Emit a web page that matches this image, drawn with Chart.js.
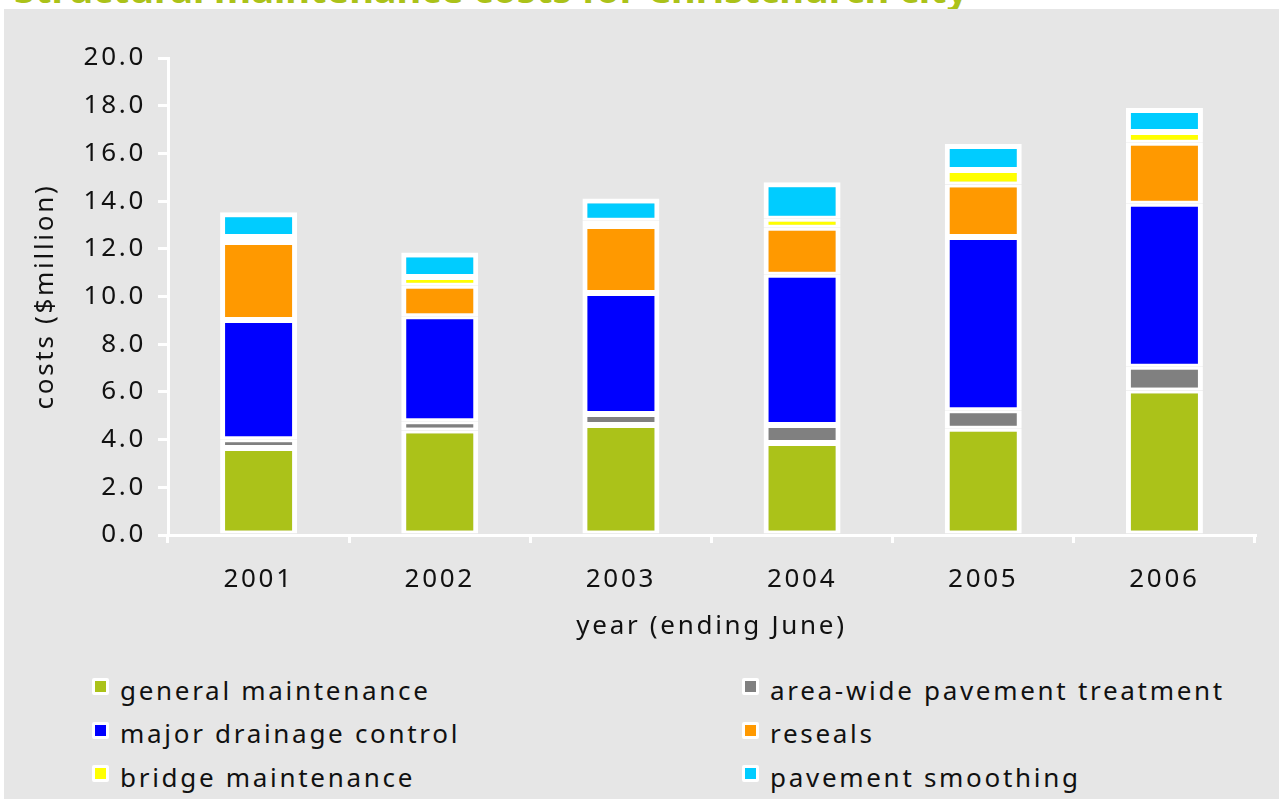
<!DOCTYPE html>
<html>
<head>
<meta charset="utf-8">
<title>Structural maintenance costs for Christchurch city</title>
<script src="https://cdn.jsdelivr.net/npm/chart.js@4/dist/chart.umd.min.js"></script>
<style>
  html, body { margin: 0; padding: 0; background: #fff; }
  body { width: 1279px; height: 799px; position: relative; overflow: hidden; font-family: "Noto Sans", sans-serif; }
  #title {
    position: absolute; left: 14px; top: -31px; margin: 0;
    font: bold 38px/38px "Noto Sans", sans-serif; color: #abc219; white-space: nowrap;
  }
  #panel { position: absolute; left: 4px; top: 9px; right: 0; bottom: 0; background: #e6e6e6; }
  #chart-box { position: absolute; left: 4px; top: 9px; width: 1275px; height: 650px; }
  #legend {
    position: absolute; left: 92px; top: 668px;
    display: grid; grid-template-columns: 650px 530px; grid-auto-rows: 43.5px;
  }
  .item { display: flex; align-items: center; font-size: 26px; letter-spacing: 2.7px; color: #111; white-space: nowrap; }
  .swatch { width: 17px; height: 17px; flex: none; box-sizing: border-box; border: 3px solid #fff; border-radius: 2px; margin-right: 11px; margin-top: -6px; }
</style>
</head>
<body>
<div id="title">Structural maintenance costs for Christchurch city</div>
<div id="panel"></div>
<div id="chart-box"><canvas id="costs-chart"></canvas></div>
<div id="legend"></div>
<script>
// year ending June
const years = ['2001', '2002', '2003', '2004', '2005', '2006'];

// costs in $million, stacked bottom to top
const generalMaintenance = [3.65, 4.38, 4.61, 3.86, 4.46, 6.06];
const areaWidePavement   = [0.36, 0.39, 0.46, 0.75, 0.77, 0.99];
const majorDrainage      = [5.00, 4.40, 5.08, 6.30, 7.27, 6.84];
const reseals            = [3.28, 1.28, 2.81, 1.97, 2.20, 2.56];
const bridgeMaintenance  = [0.21, 0.37, 0.22, 0.38, 0.60, 0.45];
const pavementSmoothing  = [1.03, 1.03, 0.93, 1.53, 1.09, 1.00];

const yTicks = [0, 2, 4, 6, 8, 10, 12, 14, 16, 18, 20];

const FONT = 'Noto Sans';
const SPACING = '2.7px';

function segment(label, data, color, top) {
    return {
        label: label,
        data: data,
        backgroundColor: color,
        borderColor: '#ffffff',
        borderWidth: { top: top ? 5 : 3, bottom: 3, left: 5, right: 5 },
        borderSkipped: false,
        categoryPercentage: 1,
        barPercentage: 0.425
    };
}

// canvas text has no letter-spacing option, so set it on the context
const letterSpacing = {
    id: 'letterSpacing',
    beforeUpdate(c) { c.ctx.letterSpacing = SPACING; },
    beforeDraw(c) { c.ctx.letterSpacing = SPACING; }
};

const chart = new Chart(document.getElementById('costs-chart'), {
    type: 'bar',
    data: {
        labels: years,
        datasets: [
            segment('general maintenance', generalMaintenance, '#abc219'),
            segment('area-wide pavement treatment', areaWidePavement, '#808080'),
            segment('major drainage control', majorDrainage, '#0000ff'),
            segment('reseals', reseals, '#ff9900'),
            segment('bridge maintenance', bridgeMaintenance, '#ffff00'),
            segment('pavement smoothing', pavementSmoothing, '#00ccff', true)
        ]
    },
    options: {
        responsive: true,
        maintainAspectRatio: false,
        animation: false,
        layout: { padding: { top: 49, right: 24, bottom: 0, left: 0 } },
        plugins: {
            legend: { display: false },
            tooltip: { enabled: false }
        },
        scales: {
            x: {
                stacked: true,
                afterFit: (scale) => { scale.height = 124; },
                grid: { drawOnChartArea: false, offset: true, color: '#ffffff', lineWidth: 3, tickLength: 8 },
                border: { color: '#ffffff', width: 3 },
                ticks: { color: '#111', padding: 21, font: { family: FONT, size: 26 } },
                title: {
                    display: true, text: 'year (ending June)', color: '#111',
                    padding: { top: 0, bottom: 17 }, font: { family: FONT, size: 26 }
                }
            },
            y: {
                stacked: true,
                min: 0,
                max: 20,
                afterFit: (scale) => { scale.width = 164; },
                afterBuildTicks: (scale) => { scale.ticks = yTicks.map(v => ({ value: v })); },
                grid: { drawOnChartArea: false, color: '#ffffff', lineWidth: 3, tickLength: 10 },
                border: { color: '#ffffff', width: 3 },
                ticks: {
                    color: '#111', padding: 12, font: { family: FONT, size: 26 },
                    callback: (v) => Number(v).toFixed(1)
                },
                title: {
                    display: true, text: 'costs ($million)', color: '#111',
                    padding: { top: 26, bottom: 0 }, font: { family: FONT, size: 26 }
                }
            }
        }
    },
    plugins: [letterSpacing]
});

// legend in two columns, filled row by row in dataset order
const legendEl = document.getElementById('legend');
chart.data.datasets.forEach(ds => {
    const item = document.createElement('div');
    item.className = 'item';
    const sw = document.createElement('span');
    sw.className = 'swatch';
    sw.style.background = ds.backgroundColor;
    item.appendChild(sw);
    item.appendChild(document.createTextNode(ds.label));
    legendEl.appendChild(item);
});
</script>
</body>
</html>
